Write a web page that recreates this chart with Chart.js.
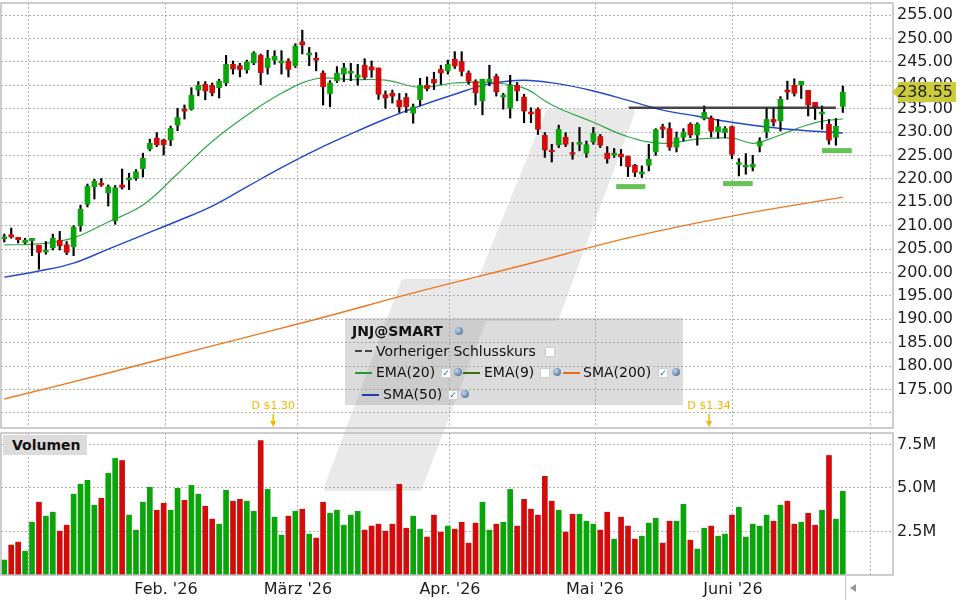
<!DOCTYPE html>
<html lang="de">
<head>
<meta charset="UTF-8">
<title>JNJ@SMART</title>
<script src="https://cdn.jsdelivr.net/npm/chart.js"></script>
<style>
  html, body { margin: 0; padding: 0; background: #fff; }
  body { width: 960px; height: 600px; position: relative; overflow: hidden; font-family: 'DejaVu Sans', Verdana, sans-serif; }
  #wm { position: absolute; left: 0; top: 0; }
  canvas { position: absolute; left: 0; }
  #priceChart { top: 0; }
  #volChart { top: 430px; }
  .abs { position: absolute; }
  .legend { left: 345px; top: 318px; width: 338px; height: 87px; background: rgba(150,150,150,0.33); }
  .lt { position: absolute; font-size: 14px; line-height: 16px; color: #111; white-space: nowrap; }
  .sw { position: absolute; height: 2px; width: 17px; }
  .cb { position: absolute; width: 8px; height: 8px; background: #fff; border: 1px solid #cfcfcf; font-size: 9px; line-height: 8px; color: #2a62c8; text-align: center; font-weight: bold; }
  .gl { position: absolute; width: 8px; height: 8px; border-radius: 50%; background: radial-gradient(circle at 35% 35%, #c9d8ea, #5a7fa8 70%); }
  .vol { left: 3px; top: 435px; width: 84px; height: 20px; background: #dcdcdc; font-weight: bold; font-size: 14px; line-height: 20px; color: #111; padding-left: 9px; box-sizing: border-box; }
</style>
</head>
<body>
<svg id="wm" width="960" height="600">
  <polygon points="549,112 632,112 556,318 484,318 419,488 327,488 404,282 480,282"
           fill="#e9e9e9" stroke="#e9e9e9" stroke-width="6" stroke-linejoin="round"/>
</svg>
<canvas id="priceChart" width="960" height="430"></canvas>
<canvas id="volChart" width="960" height="170"></canvas>

<div class="abs legend"></div>
<div class="lt" style="left:352px;top:323px;font-weight:bold;">JNJ@SMART</div>
<div class="gl" style="left:455px;top:327px;"></div>

<div class="sw" style="left:355px;top:350px;width:7px;background:#444;"></div>
<div class="sw" style="left:365px;top:350px;width:7px;background:#444;"></div>
<div class="lt" style="left:376px;top:343px;">Vorheriger Schlusskurs</div>
<div class="cb" style="left:545px;top:347px;"></div>

<div class="sw" style="left:355px;top:372px;background:#1f9a3a;"></div>
<div class="lt" style="left:376px;top:364px;">EMA(20)</div>
<div class="cb" style="left:441px;top:368px;">✓</div>
<div class="gl" style="left:454px;top:368px;"></div>
<div class="sw" style="left:463px;top:372px;background:#3d6b12;"></div>
<div class="lt" style="left:484px;top:364px;">EMA(9)</div>
<div class="cb" style="left:540px;top:368px;"></div>
<div class="gl" style="left:553px;top:368px;"></div>
<div class="sw" style="left:563px;top:372px;background:#ea6a12;"></div>
<div class="lt" style="left:583px;top:364px;">SMA(200)</div>
<div class="cb" style="left:658px;top:368px;">✓</div>
<div class="gl" style="left:672px;top:368px;"></div>

<div class="sw" style="left:362px;top:394px;background:#1f3fae;"></div>
<div class="lt" style="left:383px;top:386px;">SMA(50)</div>
<div class="cb" style="left:448px;top:390px;">✓</div>
<div class="gl" style="left:461px;top:390px;"></div>

<div class="abs vol">Volumen</div>
<div class="abs" style="left:845px;top:576px;width:1px;height:24px;background:#c8c8c8;"></div>
<div class="abs" style="left:850px;top:584px;width:0;height:0;border-top:4px solid transparent;border-bottom:4px solid transparent;border-right:6px solid #999;"></div>

<script>
// --- daily candles (index = trading day) ---
const opens  = [207.2,208.05,207.5,206.4,206.8,205.8,204.4,205.3,206.9,205.9,
                205.5,210.0,214.6,218.3,219.1,217.0,211.1,218.7,219.8,220.1,
                222.2,226.4,228.7,228.3,228.3,231.5,234.9,234.9,239.0,240.2,
                240.0,239.5,240.5,244.5,244.2,243.3,244.8,246.4,243.8,245.4,
                244.8,245.2,244.2,249.3,246.5,245.8,242.6,238.2,241.0,242.4,
                242.6,241.7,244.3,243.95,243.7,238.0,238.3,236.8,237.4,234.05,
                236.9,240.0,241.3,243.4,243.1,245.6,245.1,242.6,240.8,236.7,
                240.8,241.9,237.5,235.1,240.0,237.5,234.3,234.9,229.3,226.1,
                227.3,228.9,225.6,227.4,225.5,227.9,229.05,225.5,225.1,225.3,
                224.8,222.9,221.07,222.9,225.76,231.1,230.74,226.8,228.9,231.67,
                229.4,232.9,233.02,230.03,229.9,231.17,223.12,222.55,222.55,227.04,
                230.03,232.7,232.4,239.0,240.0,240.07,238.93,236.37,233.9,231.67,
                228.9,235.5];
const highs  = [208.2,209.5,207.5,207.3,207.3,205.8,206.6,208.2,208.8,206.6,
                210.0,214.4,218.9,219.9,220.1,218.7,218.6,222.1,221.2,222.0,
                225.5,228.5,229.9,228.5,231.3,235.1,235.8,239.5,240.8,240.8,
                240.5,241.3,246.4,245.2,244.7,245.4,247.2,246.7,247.5,247.4,
                247.4,245.7,248.9,251.8,248.1,247.0,243.1,241.0,244.0,244.7,
                244.7,244.5,245.7,245.2,243.7,238.8,239.0,238.25,238.25,236.0,
                241.5,241.8,242.8,244.3,245.4,247.2,247.2,243.1,241.2,241.3,
                244.3,242.4,238.3,242.15,240.6,238.1,235.2,235.2,229.9,227.4,
                231.5,229.9,227.8,231.0,228.1,231.0,229.5,226.9,226.5,226.3,
                224.9,223.1,222.8,227.4,230.74,231.7,232.0,230.03,230.74,232.0,
                232.0,235.6,233.45,232.7,231.17,231.3,224.33,225.4,225.04,228.8,
                235.23,235.23,237.6,240.9,241.4,240.85,238.93,236.37,235.6,232.7,
                232.9,239.86];
const lows   = [206.5,207.3,206.3,206.1,203.6,200.7,203.9,204.8,204.8,203.8,
                203.6,208.8,214.0,215.7,218.4,214.2,210.3,217.8,217.7,219.7,
                220.4,226.0,226.9,225.1,227.1,230.3,232.8,234.7,237.75,236.9,
                237.75,237.3,239.9,242.4,241.8,242.6,244.4,240.1,242.4,244.5,
                242.4,241.8,243.8,246.7,244.2,243.1,235.8,235.4,240.6,240.8,
                241.0,240.0,241.3,241.7,237.0,235.1,236.2,234.2,234.2,231.9,
                235.6,238.8,239.1,240.2,242.4,243.6,242.0,240.2,235.8,233.7,
                239.9,237.7,234.9,233.0,236.7,232.0,232.0,229.5,224.6,223.6,
                226.7,226.9,224.2,226.0,224.6,227.4,226.7,223.35,224.6,222.8,
                220.5,220.5,220.3,221.7,225.04,228.8,226.1,225.76,228.1,228.8,
                227.2,232.6,228.96,228.7,228.8,224.33,220.63,221.0,221.7,225.76,
                228.75,231.3,230.2,237.0,237.7,237.2,233.45,232.7,230.6,227.4,
                227.2,234.2];
const closes = [207.6,207.6,207.0,206.9,207.3,204.3,204.8,207.3,205.7,204.3,
                209.7,213.5,218.4,219.5,218.7,218.3,218.1,218.2,220.2,221.5,
                224.4,227.6,227.3,227.3,230.8,233.1,234.5,237.9,240.0,238.8,
                238.4,240.9,244.5,243.5,243.4,245.0,246.9,242.7,245.8,246.2,
                245.2,243.4,248.4,248.65,246.9,245.4,239.7,240.5,242.6,243.7,
                243.0,242.2,241.7,243.3,238.1,237.3,237.7,235.4,235.4,235.4,
                240.0,239.3,240.5,242.65,244.5,244.15,243.0,240.9,238.4,241.3,
                241.3,238.6,237.9,240.0,238.8,234.5,233.9,230.6,226.2,225.8,
                230.6,227.4,225.3,227.8,227.3,229.7,227.2,224.3,225.5,224.7,
                222.6,221.4,221.5,224.2,230.5,230.6,226.8,228.8,229.9,229.4,
                231.67,234.2,230.2,231.17,230.74,225.26,223.48,222.9,223.12,228.0,
                232.7,232.17,237.01,238.6,238.3,240.85,235.8,235.3,234.3,228.3,
                231.24,238.55];
// volume in millions
const volumes = [0.86,1.72,1.89,1.37,3.03,4.18,3.38,3.61,2.52,2.86,
                 4.64,5.21,5.44,4.01,4.41,5.84,6.70,6.58,3.44,2.58,
                 4.18,5.04,3.72,4.12,3.72,4.98,4.29,5.15,4.64,3.95,
                 3.21,2.92,4.87,4.24,4.35,4.24,3.66,7.73,4.92,3.32,
                 2.29,3.38,3.66,3.78,2.35,2.12,4.18,3.55,3.72,2.86,
                 3.44,3.66,2.58,2.81,2.92,2.52,2.92,5.21,2.69,3.38,
                 2.63,2.18,3.44,2.46,2.81,2.63,3.03,1.83,2.98,4.18,
                 2.58,2.92,3.03,4.92,2.81,4.35,3.78,3.44,5.67,4.24,
                 3.72,2.46,3.49,3.49,3.09,2.92,2.58,3.61,2.06,3.32,
                 2.81,2.06,2.23,2.98,3.26,1.83,3.09,3.09,4.06,2.00,
                 1.49,2.69,2.81,2.23,2.35,3.44,3.89,2.18,2.92,2.81,
                 3.44,3.09,4.01,4.24,2.92,3.03,3.55,2.86,3.72,6.87,
                 3.21,4.81];

const ema20Idx = [0,5,10,15,20,25,30,35,40,45,50,55,60,65,70,75,78,80,85,90,95,100,105,108,110,113,115,118,121];
const ema20Val = [205.9,206.1,207.4,210.8,214.4,221.1,228.0,233.6,238.3,241.4,241.2,241.1,239.6,240.5,240.6,239.4,236.7,235.1,232.1,229.0,227.6,228.5,228.7,227.6,228.3,230.0,231.1,232.35,232.8];
const sma50Idx = [0,5,10,15,20,25,30,35,40,45,50,55,60,65,70,75,80,85,90,95,100,105,110,115,121];
const sma50Val = [199.0,200.3,202.0,205.0,208.0,211.0,214.2,218.3,222.4,226.2,229.6,232.8,235.6,238.1,240.3,241.1,240.3,238.8,236.8,234.7,233.4,232.1,231.1,230.4,229.8];
const sma200Idx = [0,15,30,45,60,75,90,105,121];
const sma200Val = [172.95,178.5,184.3,190.0,196.0,201.6,207.4,212.05,216.1];

// drawn levels
const resistRange = [90.1, 120.0];
const resistLevel = 235.2;
const supportStart = [88.3, 103.7, 118.0];
const supportEnd   = [92.5, 108.0, 122.3];
const supportLevel = [218.35, 219.0, 226.05];

// dividends
const dividendIdx = [38.8, 101.7];
const dividendLabels = ['D $1.30', 'D $1.34'];

// axes
const monthPos = [3.56, 23.33, 42.38, 64.31, 85.24, 105.15, 125.06];
const monthLabels = ['', "Feb. '26", "März '26", "Apr. '26", "Mai '26", "Juni '26", ''];
const priceTicks = [170,175,180,185,190,195,200,205,210,215,220,225,230,235,240,245,250,255];
const volTicks = [2.5, 5, 7.5];

const X_MIN = -0.476, X_MAX = 128.24;
const GREEN = '#0aa50a', RED = '#d40b0b';
const GRID = '#b0b0b0';
const FONT = "'DejaVu Sans', Verdana, sans-serif";

const idx = closes.map((_, i) => i);
const colors = idx.map(i => closes[i] >= opens[i] ? GREEN : RED);

function noPad(s) { s.paddingTop = 0; s.paddingBottom = 0; s.paddingLeft = 0; s.paddingRight = 0; }

function xScale(showLabels) {
  return {
    type: 'linear', min: X_MIN, max: X_MAX, offset: false,
    afterBuildTicks: s => { s.ticks = monthPos.map(v => ({ value: v })); },
    afterFit: s => { s.height = showLabels ? 25 : 0; noPad(s); },
    grid: { color: GRID, lineWidth: 1, drawTicks: false, offset: false },
    border: { display: false, dash: [2, 2] },
    ticks: {
      display: showLabels, autoSkip: false, maxRotation: 0, padding: 5,
      color: '#1e1e1e', font: { family: FONT, size: 16 },
      callback: (v, i) => monthLabels[i]
    }
  };
}

function yScale(min, max, ticks, fmt) {
  return {
    type: 'linear', position: 'right', min: min, max: max,
    afterBuildTicks: s => { s.ticks = ticks.map(v => ({ value: v })); },
    afterFit: s => { s.width = 67; noPad(s); },
    grid: { color: GRID, lineWidth: 1, drawTicks: false },
    border: { display: false, dash: [2, 2] },
    ticks: { padding: 4, color: '#1e1e1e', font: { family: FONT, size: 16 }, callback: fmt }
  };
}

function pts(xs, ys) { return xs.map((x, i) => ({ x: x, y: ys[i] })); }

const frame = {
  id: 'frame',
  afterDraw(chart) {
    const a = chart.chartArea, ctx = chart.ctx;
    ctx.save();
    ctx.strokeStyle = '#bdbdbd';
    ctx.lineWidth = 1.5;
    ctx.strokeRect(a.left, a.top, a.right - a.left, a.bottom - a.top);
    ctx.restore();
  }
};

const priceMarks = {
  id: 'priceMarks',
  afterDraw(chart) {
    const ctx = chart.ctx, xs = chart.scales.x, ys = chart.scales.y, a = chart.chartArea;
    ctx.save();
    // dividends
    ctx.font = '11px ' + FONT;
    ctx.textAlign = 'center';
    ctx.textBaseline = 'middle';
    dividendIdx.forEach((d, k) => {
      const x = xs.getPixelForValue(d);
      ctx.fillStyle = '#f2b705';
      ctx.fillText(dividendLabels[k], x, a.bottom - 22);
      ctx.strokeStyle = '#f2b705';
      ctx.lineWidth = 1.5;
      ctx.beginPath();
      ctx.moveTo(x, a.bottom - 14);
      ctx.lineTo(x, a.bottom - 4);
      ctx.stroke();
      ctx.beginPath();
      ctx.moveTo(x - 3, a.bottom - 7);
      ctx.lineTo(x + 3, a.bottom - 7);
      ctx.lineTo(x, a.bottom - 1);
      ctx.closePath();
      ctx.fill();
    });
    // last price tag
    const last = closes[closes.length - 1];
    const y = ys.getPixelForValue(last);
    ctx.fillStyle = '#cbcb3c';
    ctx.beginPath();
    ctx.moveTo(a.right - 1, y);
    ctx.lineTo(a.right + 5, y - 6);
    ctx.lineTo(a.right + 5, y - 10);
    ctx.lineTo(a.right + 63, y - 10);
    ctx.lineTo(a.right + 63, y + 10);
    ctx.lineTo(a.right + 5, y + 10);
    ctx.lineTo(a.right + 5, y + 6);
    ctx.closePath();
    ctx.fill();
    ctx.fillStyle = '#222';
    ctx.font = '16px ' + FONT;
    ctx.textAlign = 'left';
    ctx.fillText(last.toFixed(2), a.right + 4, y + 1);
    ctx.restore();
  }
};

const lineDs = (data, color, w, order) => ({
  type: 'line', data: data, borderColor: color, borderWidth: w,
  pointRadius: 0, tension: 0.4, fill: false, order: order
});

new Chart(document.getElementById('priceChart'), {
  type: 'bar',
  data: {
    datasets: [
      { data: idx.map(i => ({ x: i, y: [opens[i], closes[i]] })), backgroundColor: colors,
        barThickness: 5, minBarLength: 1.5, grouped: false, order: 1 },
      { data: idx.map(i => ({ x: i, y: [lows[i], highs[i]] })), backgroundColor: '#000',
        barThickness: 1.5, grouped: false, order: 2 },
      lineDs(pts(sma200Idx, sma200Val), '#f07820', 1.4, 3),
      lineDs(pts(sma50Idx, sma50Val), '#2448d0', 1.4, 3),
      lineDs(pts(ema20Idx, ema20Val), '#2fa84a', 1.2, 3),
      Object.assign(lineDs(pts(resistRange, [resistLevel, resistLevel]), 'rgba(40,40,40,0.85)', 2.5, 0), { tension: 0 }),
      ...supportLevel.map((lv, k) =>
        Object.assign(lineDs(pts([supportStart[k], supportEnd[k]], [lv, lv]), '#66c455', 5, 0), { tension: 0 }))
    ]
  },
  options: {
    responsive: false, animation: false, devicePixelRatio: 1,
    layout: { padding: { top: 3, left: 1, bottom: 2, right: 0 } },
    plugins: { legend: { display: false }, tooltip: { enabled: false } },
    scales: {
      x: xScale(false),
      y: yScale(166.75, 257.6, priceTicks, v => v === 170 ? '' : v.toFixed(2))
    }
  },
  plugins: [frame, priceMarks]
});

new Chart(document.getElementById('volChart'), {
  type: 'bar',
  data: {
    datasets: [{
      data: idx.map(i => ({ x: i, y: volumes[i] })), backgroundColor: colors,
      barThickness: 5, grouped: false
    }]
  },
  options: {
    responsive: false, animation: false, devicePixelRatio: 1,
    layout: { padding: { top: 3, left: 1, bottom: 0, right: 0 } },
    plugins: { legend: { display: false }, tooltip: { enabled: false } },
    scales: {
      x: xScale(true),
      y: yScale(0, 8.16, volTicks, v => v.toFixed(1) + 'M')
    }
  },
  plugins: [frame]
});
</script>
</body>
</html>
